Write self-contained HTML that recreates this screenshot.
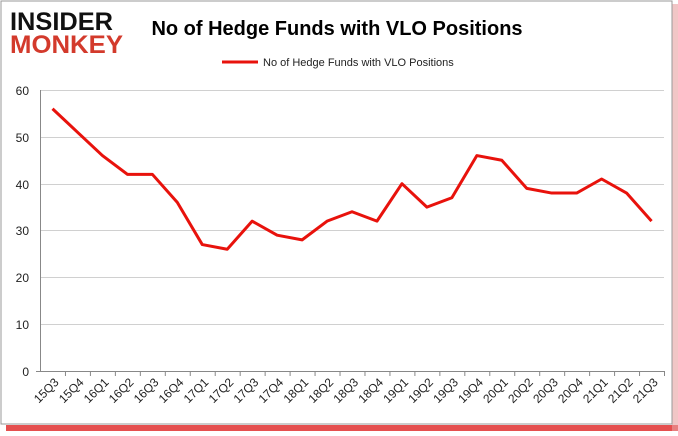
<!DOCTYPE html>
<html><head><meta charset="utf-8"><style>
body{margin:0;background:#fff;}
</style></head><body>
<svg width="678" height="431" xmlns="http://www.w3.org/2000/svg" font-family="Liberation Sans, Arial, sans-serif">
<rect x="0" y="0" width="678" height="431" fill="#fff"/>
<rect x="6" y="425" width="672" height="6" fill="#e03030" opacity="0.85"/>
<rect x="672" y="4" width="6" height="427" fill="#e8a0a0" opacity="0.6"/>
<rect x="1" y="1" width="671" height="423" fill="#fff" stroke="#999" stroke-width="1"/>
<text x="10" y="30" font-size="25" font-weight="900" fill="#111" textLength="103" lengthAdjust="spacingAndGlyphs">INSIDER</text>
<text x="10" y="53" font-size="25" font-weight="900" fill="#d33a2c" textLength="113" lengthAdjust="spacingAndGlyphs">MONKEY</text>
<text x="337" y="35" font-size="20" font-weight="bold" text-anchor="middle" fill="#000">No of Hedge Funds with VLO Positions</text>
<line x1="222" y1="62" x2="258" y2="62" stroke="#e8120c" stroke-width="3"/>
<text x="263" y="66" font-size="11" fill="#222">No of Hedge Funds with VLO Positions</text>
<g stroke="#d0d0d0" stroke-width="1">
<line x1="40" y1="90.5" x2="664" y2="90.5"/>
<line x1="40" y1="137.5" x2="664" y2="137.5"/>
<line x1="40" y1="184.5" x2="664" y2="184.5"/>
<line x1="40" y1="230.5" x2="664" y2="230.5"/>
<line x1="40" y1="277.5" x2="664" y2="277.5"/>
<line x1="40" y1="324.5" x2="664" y2="324.5"/>
</g>
<line x1="40.5" y1="90" x2="40.5" y2="371" stroke="#888"/>
<line x1="36" y1="371.5" x2="664" y2="371.5" stroke="#888"/>
<g font-size="12" fill="#222" text-anchor="end">
<text x="29" y="95">60</text><text x="29" y="142">50</text><text x="29" y="189">40</text>
<text x="29" y="235">30</text><text x="29" y="282">20</text><text x="29" y="329">10</text><text x="29" y="376">0</text>
</g>
<g id="t" stroke="#888"></g>
<polyline id="p" fill="none" stroke="#e8120c" stroke-width="3" stroke-linejoin="round"/>
<g id="xl" font-size="12" fill="#222" text-anchor="end"></g>
<script>
var v=[56,51,46,42,42,36,27,26,32,29,28,32,34,32,40,35,37,46,45,39,38,38,41,38,32];
var l=["15Q3","15Q4","16Q1","16Q2","16Q3","16Q4","17Q1","17Q2","17Q3","17Q4","18Q1","18Q2","18Q3","18Q4","19Q1","19Q2","19Q3","19Q4","20Q1","20Q2","20Q3","20Q4","21Q1","21Q2","21Q3"];
var ns="http://www.w3.org/2000/svg",w=24.96,pts=[],t=document.getElementById("t"),xl=document.getElementById("xl");
for(var i=0;i<25;i++){var x=52.5+w*i,y=371-v[i]*4.683;pts.push(x+","+y);
var tk=document.createElementNS(ns,"line");var tx=40.5+w*(i+1);tk.setAttribute("x1",tx);tk.setAttribute("x2",tx);tk.setAttribute("y1",371);tk.setAttribute("y2",376);t.appendChild(tk);
var tt=document.createElementNS(ns,"text");tt.setAttribute("transform","translate("+(x+7)+",383) rotate(-45)");tt.textContent=l[i];xl.appendChild(tt);}
document.getElementById("p").setAttribute("points",pts.join(" "));
</script>
</svg>
</body></html>
